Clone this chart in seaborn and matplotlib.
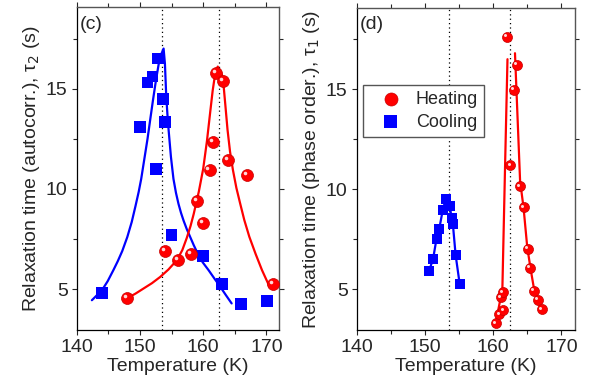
import matplotlib
matplotlib.use("Agg")
import matplotlib.pyplot as plt
import seaborn as sns
from matplotlib.transforms import ScaledTranslation
from matplotlib.ticker import MultipleLocator

sns.set_style("ticks")
plt.rcParams["font.family"] = ["Liberation Sans", "DejaVu Sans"]

# transition temperatures (dotted guides)
tc_lines = [153.5, 162.5]

# panel (c): autocorrelation time tau_2
cool_c_T = [144.0, 150.0, 151.2, 152.0, 152.9, 152.5, 153.6, 154.0, 155.0, 160.0, 163.0, 166.0, 170.1]
cool_c_tau = [4.8, 13.1, 15.3, 15.6, 16.5, 11.0, 14.5, 13.35, 7.7, 6.65, 5.25, 4.25, 4.4]
heat_c_T = [148.0, 154.0, 156.0, 158.0, 159.0, 160.0, 161.0, 161.5, 162.0, 163.2, 164.0, 167.0, 171.0]
heat_c_tau = [4.55, 6.9, 6.45, 6.75, 9.4, 8.3, 10.95, 12.35, 15.8, 15.4, 11.45, 10.7, 5.25]

# fitted curves in (c)
cool_fit_T = [142.4, 143.2, 144.0, 144.9, 145.8, 146.5, 147.2, 148.0, 148.7, 149.3, 149.8,
              150.2, 150.7, 151.2, 151.6, 152.05, 152.5, 152.95, 153.35, 153.74,
              153.95, 154.16, 154.35, 154.53, 154.9, 155.3, 155.7, 156.1, 156.5, 156.9,
              157.4, 157.95, 158.5, 159.1, 159.9, 160.85, 161.8, 162.7, 163.6, 164.5]
cool_fit_tau = [4.45, 4.7, 4.95, 5.4, 5.95, 6.4, 6.9, 7.6, 8.35, 9.15, 9.85,
                10.5, 11.5, 12.5, 13.4, 14.4, 15.35, 16.2, 16.7, 17.0,
                16.25, 14.6, 13.7, 12.95, 11.6, 10.5, 9.8, 9.25, 8.8, 8.42,
                8.0, 7.6, 7.2, 6.8, 6.35, 5.95, 5.52, 5.12, 4.7, 4.29]
heat_fit_T = [147.95, 149.3, 150.6, 151.9, 153.2, 154.5, 155.85, 156.7, 157.4, 158.0, 158.5,
              159.3, 160.0, 160.6, 161.1, 161.5, 161.9, 162.3,
              163.1, 163.5, 163.85, 164.25, 164.7, 165.25, 165.85, 166.5, 167.3, 168.3, 169.3, 170.5]
heat_fit_tau = [4.54, 4.78, 5.04, 5.3, 5.61, 5.98, 6.45, 6.95, 7.55, 8.15, 8.75,
                9.85, 11.0, 12.4, 13.8, 14.9, 15.75, 16.1,
                15.6, 14.2, 12.95, 11.85, 10.95, 10.05, 9.27, 8.45, 7.61, 6.75, 5.95, 5.12]

# panel (d): phase-order relaxation time tau_1
cool_d_T = [150.6, 151.2, 151.7, 152.1, 152.6, 153.06, 153.65, 153.9, 154.1, 154.5, 155.1]
cool_d_tau = [5.91, 6.53, 7.53, 8.02, 8.94, 9.52, 9.15, 8.57, 8.24, 6.71, 5.25]
heat_d_T = [160.4, 160.9, 161.5, 161.1, 161.4, 162.0, 162.5, 163.0, 163.5, 163.96,
            164.45, 165.04, 165.4, 166.0, 166.6, 167.1]
heat_d_tau = [3.3, 3.75, 3.95, 4.6, 4.85, 17.62, 11.19, 14.97, 16.21, 10.15,
              9.1, 7.03, 6.08, 4.93, 4.46, 3.99]
heat_rise_T = [160.3, 161.35, 161.75, 162.1]
heat_rise_tau = [3.2, 5.0, 11.2, 16.5]
heat_fall_T = [163.2, 163.95, 164.45, 165.0, 165.5, 166.0, 167.0]
heat_fall_tau = [16.8, 10.4, 9.1, 7.1, 6.0, 5.0, 4.0]

RED = "#ff0000"
BLUE = "#0000ff"

fig = plt.figure(figsize=(5.9, 3.83), dpi=100)
ax1 = fig.add_axes([0.130, 0.1376, 0.343, 0.843])
ax2 = fig.add_axes([0.6046, 0.1376, 0.370, 0.841])


def balls(ax, x, y, size, label=None):
    sns.scatterplot(x=x, y=y, ax=ax, s=size ** 2, color=RED, edgecolor="#c80000",
                    linewidth=0.5, zorder=4, label=label, legend=False)
    # small white glint so the markers read as spheres
    hl = ax.scatter(x, y, s=(size * 0.3) ** 2, color="white", alpha=0.85, linewidth=0, zorder=5)
    shift = size * 0.17 / 72
    hl.set_offset_transform(ax.transData + ScaledTranslation(-shift, shift, fig.dpi_scale_trans))


def squares(ax, x, y, size, label=None):
    sns.scatterplot(x=x, y=y, ax=ax, s=size ** 2, marker="s", color=BLUE,
                    edgecolor="none", zorder=4, label=label, legend=False)


# (c)
sns.lineplot(x=cool_fit_T, y=cool_fit_tau, ax=ax1, color=BLUE, linewidth=1.6,
             sort=False, estimator=None, zorder=3)
sns.lineplot(x=heat_fit_T, y=heat_fit_tau, ax=ax1, color=RED, linewidth=1.6,
             sort=False, estimator=None, zorder=3)
squares(ax1, cool_c_T, cool_c_tau, 8.4)
balls(ax1, heat_c_T, heat_c_tau, 8.6)

# (d)
sns.lineplot(x=cool_d_T, y=cool_d_tau, ax=ax2, color=BLUE, linewidth=1.6,
             sort=False, estimator=None, zorder=3)
sns.lineplot(x=heat_rise_T, y=heat_rise_tau, ax=ax2, color=RED, linewidth=1.6,
             sort=False, estimator=None, zorder=3)
sns.lineplot(x=heat_fall_T, y=heat_fall_tau, ax=ax2, color=RED, linewidth=1.6,
             sort=False, estimator=None, zorder=3)
squares(ax2, cool_d_T, cool_d_tau, 7.2, label="Cooling")
balls(ax2, heat_d_T, heat_d_tau, 7.2, label="Heating")

for ax, letter, ylab in [
    (ax1, "(c)", "Relaxation time (autocorr.), τ$_2$ (s)"),
    (ax2, "(d)", "Relaxation time (phase order.), τ$_1$ (s)"),
]:
    for tc in tc_lines:
        ax.axvline(tc, color="black", linestyle=(0, (1, 2.5)), linewidth=0.9, zorder=2)
    ax.set_xlim(140, 172)
    ax.set_ylim(2.95, 19.05)
    ax.xaxis.set_major_locator(MultipleLocator(10))
    ax.xaxis.set_minor_locator(MultipleLocator(5))
    ax.yaxis.set_major_locator(MultipleLocator(5))
    ax.yaxis.set_minor_locator(MultipleLocator(2.5))
    ax.tick_params(which="both", direction="out", top=True, right=True,
                   labelsize=14, width=0.8, pad=3)
    ax.tick_params(which="major", length=3.5)
    ax.tick_params(which="minor", length=3)
    for side in ["left", "bottom"]:
        ax.spines[side].set_linewidth(0.9)
        ax.spines[side].set_color("black")
    for side in ["top", "right"]:
        ax.spines[side].set_linewidth(1.0)
        ax.spines[side].set_color("#555555")
    ax.set_xlabel("Temperature (K)", fontsize=14, labelpad=1)
    ax.set_ylabel(ylab, fontsize=14, labelpad=3)
    ax.text(0.015, 0.975, letter, transform=ax.transAxes, fontsize=14, va="top", ha="left")

if ax1.get_legend() is not None:
    ax1.get_legend().remove()
handles, labels = ax2.get_legend_handles_labels()
order = [labels.index("Heating"), labels.index("Cooling")]
leg = ax2.legend([handles[i] for i in order], [labels[i] for i in order],
                 loc="upper left", bbox_to_anchor=(0.027, 0.762), borderaxespad=0,
                 fontsize=13, frameon=True, fancybox=False, edgecolor="#555555",
                 framealpha=1, markerscale=1.3, handlelength=2.4, handletextpad=0.2,
                 labelspacing=0.3, borderpad=0.35)
leg.get_frame().set_linewidth(1.0)

fig.savefig("out.png", dpi=100)
